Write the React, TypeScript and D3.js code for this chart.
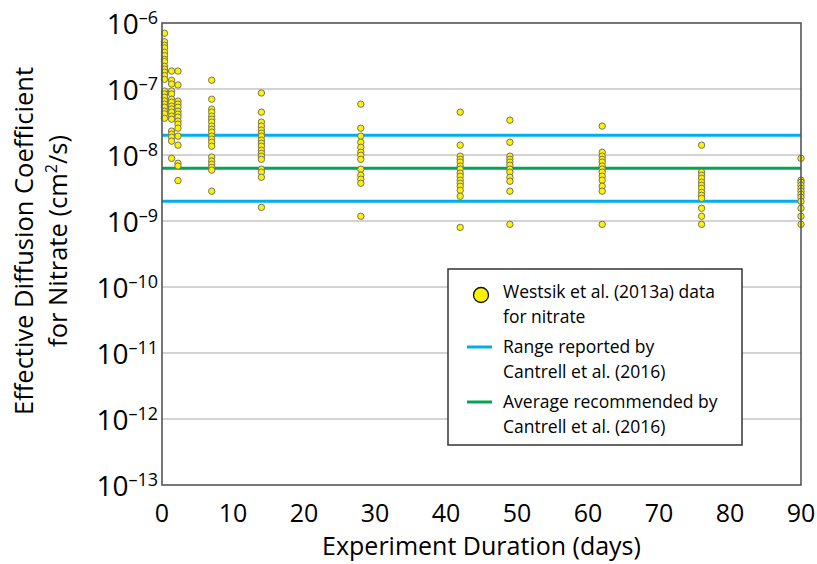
import React, { useEffect, useRef } from 'react';
import * as d3 from 'd3';

// sampling days (first three columns are the short-term samples near day 0)
const days = [0.35, 1.35, 2.25, 7, 14, 28, 42, 49, 62, 76, 90];

// effective diffusion coefficients (cm2/s), one list per sampling day
const coefficients: number[][] = [
  [7.0e-7, 5.2e-7, 4.6e-7, 4.2e-7, 3.6e-7, 3.2e-7, 2.8e-7, 2.6e-7, 2.2e-7, 2.0e-7, 1.8e-7, 1.6e-7, 1.4e-7,
    9.3e-8, 8.4e-8, 7.5e-8, 6.6e-8, 5.9e-8, 5.3e-8, 4.6e-8, 4.2e-8, 3.6e-8],
  [1.87e-7, 1.36e-7, 1.19e-7, 9.3e-8, 8.4e-8, 7.0e-8, 6.3e-8, 5.5e-8, 4.96e-8, 4.46e-8, 3.88e-8, 3.49e-8,
    2.3e-8, 2.07e-8, 1.86e-8, 1.62e-8, 8.9e-9],
  [1.87e-7, 1.15e-7, 6.55e-8, 5.9e-8, 5.3e-8, 4.6e-8, 4.16e-8, 3.75e-8, 3.26e-8, 2.93e-8, 2.55e-8, 1.93e-8,
    1.41e-8, 7.5e-9, 6.8e-9, 4.1e-9],
  [1.36e-7, 7.0e-8, 4.96e-8, 4.46e-8, 3.88e-8, 3.49e-8, 3.15e-8, 2.74e-8, 2.46e-8, 2.22e-8, 1.93e-8, 1.74e-8,
    1.56e-8, 1.36e-8, 9.3e-9, 8.1e-9, 7.25e-9, 6.5e-9, 5.9e-9, 2.83e-9],
  [8.7e-8, 4.46e-8, 3.15e-8, 2.74e-8, 2.38e-8, 2.14e-8, 1.93e-8, 1.68e-8, 1.51e-8, 1.36e-8, 1.18e-8, 1.06e-8,
    9.6e-9, 8.6e-9, 6.1e-9, 5.5e-9, 4.6e-9, 1.61e-9],
  [5.9e-8, 2.55e-8, 1.93e-8, 1.56e-8, 1.31e-8, 1.1e-8, 9.9e-9, 8.6e-9, 6.1e-9, 4.94e-9, 4.3e-9, 3.73e-9, 1.18e-9],
  [4.46e-8, 1.41e-8, 9.6e-9, 8.6e-9, 7.8e-9, 6.8e-9, 6.1e-9, 5.3e-9, 4.77e-9, 4.15e-9, 3.73e-9, 3.36e-9,
    2.92e-9, 2.37e-9, 8.0e-10],
  [3.37e-8, 1.56e-8, 9.6e-9, 8.6e-9, 7.8e-9, 7.0e-9, 6.1e-9, 5.5e-9, 4.6e-9, 4.0e-9, 2.83e-9, 8.9e-10],
  [2.74e-8, 1.1e-8, 9.6e-9, 8.6e-9, 7.8e-9, 6.8e-9, 6.1e-9, 5.5e-9, 4.77e-9, 4.15e-9, 3.36e-9, 2.83e-9, 8.9e-10],
  [1.41e-8, 5.5e-9, 4.94e-9, 4.45e-9, 3.87e-9, 3.48e-9, 3.13e-9, 2.72e-9, 2.45e-9, 2.21e-9, 1.56e-9, 1.18e-9, 8.9e-10],
  [8.9e-9, 4.15e-9, 3.87e-9, 3.48e-9, 3.13e-9, 2.83e-9, 2.54e-9, 2.29e-9, 1.99e-9, 1.56e-9, 1.18e-9, 8.9e-10],
];

// Cantrell et al. (2016)
const rangeValues = [2.0e-9, 2.0e-8];
const averageValue = 6.3e-9;

const xTicks = [0, 10, 20, 30, 40, 50, 60, 70, 80, 90];
const yExponents = [-6, -7, -8, -9, -10, -11, -12, -13];

const legendItems = [
  { kind: 'dot', lines: ['Westsik et al. (2013a) data', 'for nitrate'] },
  { kind: 'range', lines: ['Range reported by', 'Cantrell et al. (2016)'] },
  { kind: 'avg', lines: ['Average recommended by', 'Cantrell et al. (2016)'] },
];

const BLUE = '#00aeef';
const GREEN = '#00a651';
const YELLOW = '#fff200';
const FONT = '"Open Sans", "Noto Sans", sans-serif';

export default function App() {
  const svgRef = useRef<SVGSVGElement>(null);

  useEffect(() => {
    if (!svgRef.current) return;
    const width = 817;
    const height = 564;
    const margin = { top: 23, right: 16, bottom: 79, left: 162 };
    const w = width - margin.left - margin.right;
    const h = height - margin.top - margin.bottom;

    const svg = d3.select(svgRef.current);
    svg.selectAll('*').remove();

    const g = svg.append('g').attr('transform', `translate(${margin.left},${margin.top})`);

    const x = d3.scaleLinear().domain([0, 90]).range([0, w]);
    const y = d3.scaleLog().domain([1e-13, 1e-6]).range([h, 0]);

    // grid lines
    g.append('g')
      .selectAll('line')
      .data(yExponents.slice(1, -1))
      .join('line')
      .attr('x1', 0)
      .attr('x2', w)
      .attr('y1', d => y(Math.pow(10, d)))
      .attr('y2', d => y(Math.pow(10, d)))
      .attr('stroke', '#c4c4c4')
      .attr('stroke-width', 1.5);

    // reference lines
    rangeValues.forEach(v => {
      g.append('line')
        .attr('x1', 0).attr('x2', w)
        .attr('y1', y(v)).attr('y2', y(v))
        .attr('stroke', BLUE).attr('stroke-width', 3);
    });
    g.append('line')
      .attr('x1', 0).attr('x2', w)
      .attr('y1', y(averageValue)).attr('y2', y(averageValue))
      .attr('stroke', GREEN).attr('stroke-width', 3);

    // points
    const points = days.flatMap((d, i) => coefficients[i].map(v => ({ day: d, value: v })));
    g.append('g')
      .selectAll('circle')
      .data(points)
      .join('circle')
      .attr('cx', d => x(d.day))
      .attr('cy', d => y(d.value))
      .attr('r', 3.2)
      .attr('fill', YELLOW)
      .attr('stroke', '#666')
      .attr('stroke-width', 0.9);

    // frame
    g.append('rect')
      .attr('width', w)
      .attr('height', h)
      .attr('fill', 'none')
      .attr('stroke', '#555')
      .attr('stroke-width', 1.6);

    // x tick labels
    g.append('g')
      .selectAll('text')
      .data(xTicks)
      .join('text')
      .attr('x', d => x(d))
      .attr('y', h + 37)
      .attr('text-anchor', 'middle')
      .attr('font-family', FONT)
      .attr('font-size', 25)
      .attr('fill', '#000')
      .text(d => d);

    // y tick labels: 10^n
    const yl = g.append('g')
      .selectAll('text')
      .data(yExponents)
      .join('text')
      .attr('x', -4)
      .attr('y', d => y(Math.pow(10, d)) + 11)
      .attr('text-anchor', 'end')
      .attr('font-family', FONT)
      .attr('font-size', 28)
      .attr('fill', '#000');
    yl.append('tspan').text('10');
    yl.append('tspan')
      .attr('font-size', 18)
      .attr('dy', -10)
      .text(d => `\u2013${-d}`);

    // axis titles
    svg.append('text')
      .attr('x', margin.left + w / 2)
      .attr('y', 555)
      .attr('text-anchor', 'middle')
      .attr('font-family', FONT)
      .attr('font-size', 25)
      .attr('fill', '#000')
      .text('Experiment Duration (days)');

    const yt = svg.append('text')
      .attr('transform', 'translate(0,241) rotate(-90)')
      .attr('text-anchor', 'middle')
      .attr('font-family', FONT)
      .attr('font-size', 25.5)
      .attr('fill', '#000');
    yt.append('tspan').attr('x', 0).attr('y', 33).text('Effective Diffusion Coefficient');
    const l2 = yt.append('tspan').attr('x', 0).attr('y', 67);
    l2.append('tspan').text('for Nitrate (cm');
    l2.append('tspan').attr('font-size', 16).attr('dy', -10).text('2');
    l2.append('tspan').attr('dy', 10).text('/s)');

    // legend
    const lg = svg.append('g').attr('transform', 'translate(448,269)');
    lg.append('rect')
      .attr('width', 294)
      .attr('height', 176)
      .attr('fill', '#fff')
      .attr('stroke', '#333')
      .attr('stroke-width', 1.5);

    legendItems.forEach((item, i) => {
      const top = 29 + i * 55;
      if (item.kind === 'dot') {
        lg.append('circle')
          .attr('cx', 33).attr('cy', top - 3).attr('r', 7.5)
          .attr('fill', YELLOW).attr('stroke', '#111').attr('stroke-width', 1.3);
      } else {
        lg.append('line')
          .attr('x1', 19).attr('x2', 44)
          .attr('y1', top - 6).attr('y2', top - 6)
          .attr('stroke', item.kind === 'range' ? BLUE : GREEN)
          .attr('stroke-width', 3);
      }
      item.lines.forEach((t, j) => {
        lg.append('text')
          .attr('x', 55)
          .attr('y', top + j * 25)
          .attr('font-family', FONT)
          .attr('font-size', 17.5)
          .attr('fill', '#000')
          .text(t);
      });
    });
  }, []);

  return (
    <svg
      ref={svgRef}
      width={817}
      height={564}
      style={{ position: 'absolute', left: 0, top: 0, background: '#fff' }}
    />
  );
}
